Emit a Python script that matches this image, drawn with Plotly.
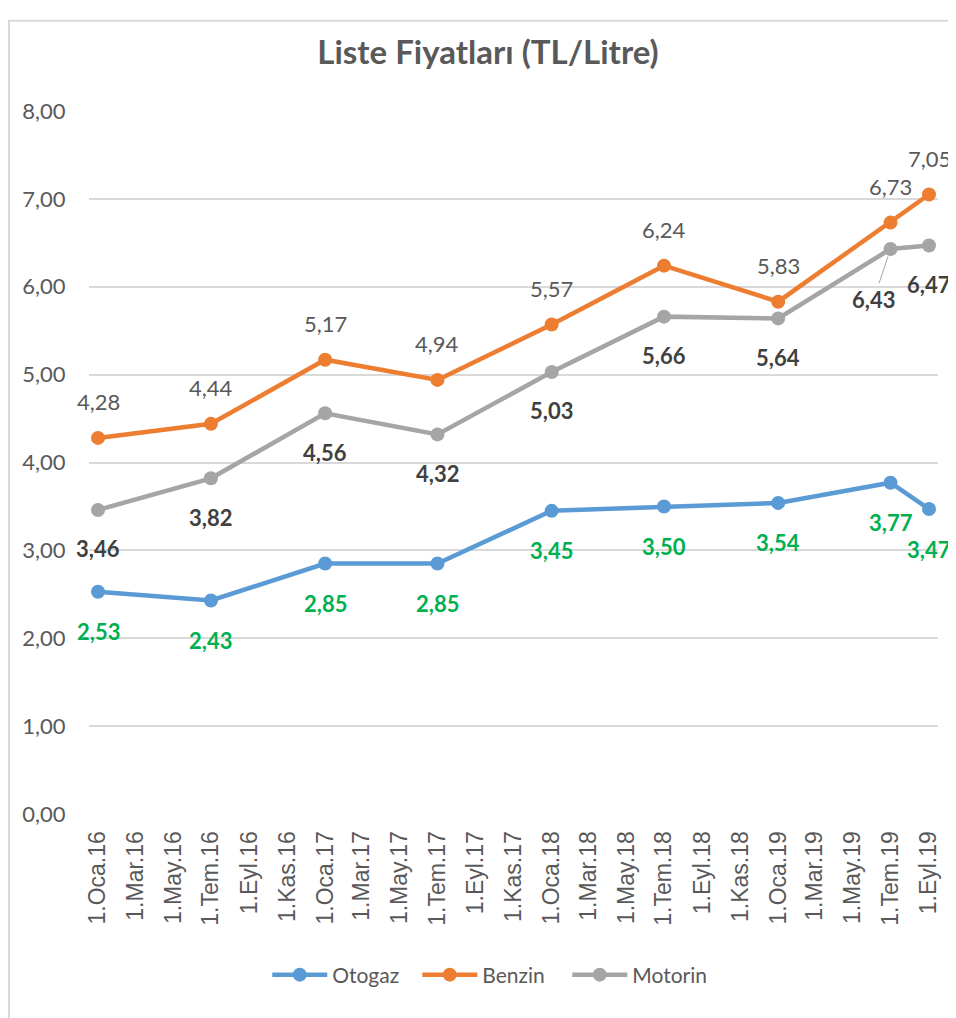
import plotly.graph_objects as go

# data points (1st of the month)
dates = ["2016-01-01", "2016-07-01", "2017-01-01", "2017-07-01", "2018-01-01",
         "2018-07-01", "2019-01-01", "2019-07-01", "2019-09-01"]
otogaz = [2.53, 2.43, 2.85, 2.85, 3.45, 3.50, 3.54, 3.77, 3.47]
benzin = [4.28, 4.44, 5.17, 4.94, 5.57, 6.24, 5.83, 6.73, 7.05]
motorin = [3.46, 3.82, 4.56, 4.32, 5.03, 5.66, 5.64, 6.43, 6.47]

tick_dates = ["2016-01-01", "2016-03-01", "2016-05-01", "2016-07-01", "2016-09-01", "2016-11-01",
              "2017-01-01", "2017-03-01", "2017-05-01", "2017-07-01", "2017-09-01", "2017-11-01",
              "2018-01-01", "2018-03-01", "2018-05-01", "2018-07-01", "2018-09-01", "2018-11-01",
              "2019-01-01", "2019-03-01", "2019-05-01", "2019-07-01", "2019-09-01"]
tick_labels = ["1.Oca.16", "1.Mar.16", "1.May.16", "1.Tem.16", "1.Eyl.16", "1.Kas.16",
               "1.Oca.17", "1.Mar.17", "1.May.17", "1.Tem.17", "1.Eyl.17", "1.Kas.17",
               "1.Oca.18", "1.Mar.18", "1.May.18", "1.Tem.18", "1.Eyl.18", "1.Kas.18",
               "1.Oca.19", "1.Mar.19", "1.May.19", "1.Tem.19", "1.Eyl.19"]

FONT = "Lato"
GREY_TXT = "#595959"

series = [
    dict(name="Otogaz", y=otogaz, color="#5B9BD5",
         lbl=dict(color="#00B050", bold=True, shift=-40)),
    dict(name="Benzin", y=benzin, color="#ED7D31",
         lbl=dict(color="#595959", bold=False, shift=36)),
    dict(name="Motorin", y=motorin, color="#A5A5A5",
         lbl=dict(color="#404040", bold=True, shift=-39)),
]

fig = go.Figure()
annotations = []
for s in series:
    fig.add_trace(go.Scatter(
        x=dates, y=s["y"], name=s["name"], mode="lines+markers",
        line=dict(color=s["color"], width=4.5),
        marker=dict(color=s["color"], size=14),
    ))
    lb = s["lbl"]
    for i, (d, v) in enumerate(zip(dates, s["y"])):
        txt = f"{v:.2f}".replace(".", ",")
        if lb["bold"]:
            txt = "<b>" + txt + "</b>"
        ann = dict(x=d, y=v, text=txt, showarrow=False, yshift=lb["shift"],
                   font=dict(family=FONT, size=22, color=lb["color"]))
        # Motorin 6,43 sits off to the lower left with a leader line
        if s["name"] == "Motorin" and i == 7:
            ann.update(showarrow=True, yshift=0, ax=-17, ay=51, arrowhead=0,
                       arrowwidth=1, arrowcolor="#A6A6A6", standoff=8, startstandoff=2)
        annotations.append(ann)

# page body has an 8px margin, so the figure is sized/offset for it
fig.update_layout(
    width=948, height=1010,
    margin=dict(l=81, r=18, t=103, b=204),
    paper_bgcolor="white", plot_bgcolor="white",
    separators=",.",
    font=dict(family=FONT, color=GREY_TXT),
    title=dict(text="<b>Liste Fiyatları (TL/Litre)</b>", x=480 / 948, xref="container",
               y=1 - 44 / 1010, yanchor="middle", xanchor="center",
               font=dict(family=FONT, size=33, color=GREY_TXT)),
    xaxis=dict(type="date", range=["2015-12-17 12:00", "2019-09-15 12:00"],
               tickmode="array", tickvals=tick_dates, ticktext=tick_labels,
               tickangle=-90, showgrid=False, zeroline=False, showline=False,
               ticks="outside", ticklen=7, tickcolor="rgba(0,0,0,0)",
               tickfont=dict(family="Liberation Sans", size=23, color=GREY_TXT)),
    yaxis=dict(range=[0, 8], dtick=1, tickformat=".2f", showgrid=True,
               gridcolor="#D9D9D9", gridwidth=1.5, zeroline=False, showline=False,
               ticks="outside", ticklen=18, tickcolor="rgba(0,0,0,0)",
               tickfont=dict(family=FONT, size=22, color=GREY_TXT)),
    legend=dict(orientation="h", x=0.475, xanchor="center", y=-0.229, yanchor="middle",
                itemwidth=55, entrywidth=80, entrywidthmode="pixels",
                font=dict(family=FONT, size=21, color=GREY_TXT)),
    annotations=annotations,
    shapes=[dict(type="rect", xref="paper", yref="paper",
                 x0=-0.0942, x1=1.05, y0=-0.32, y1=1.1285,
                 line=dict(color="#D9D9D9", width=2), layer="below")],
    showlegend=True,
)

fig.write_html("out.html")
